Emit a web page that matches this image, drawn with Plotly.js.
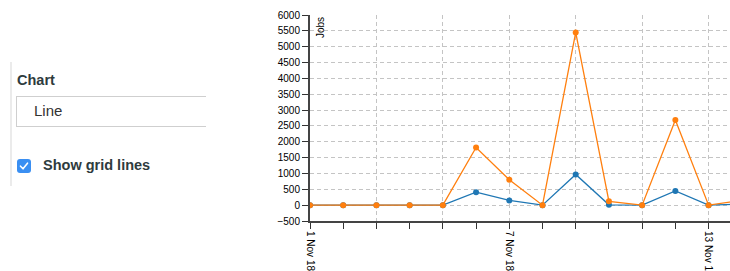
<!DOCTYPE html>
<html>
<head>
<meta charset="utf-8">
<script src="https://cdn.plot.ly/plotly-3.0.1.min.js"></script>
<style>
  html, body { margin:0; padding:0; width:730px; height:271px; overflow:hidden; background:#fff; }
  #panel { position:absolute; left:10px; top:62px; width:200px; height:124px; border-left:2px solid #ebebeb; }
  #lbl { position:absolute; left:5px; top:10px; font-family:"Liberation Sans", Arial, sans-serif; font-weight:bold; font-size:14.5px; color:#2e3b3d; }
  #boxclip { position:absolute; left:4px; top:34px; width:190px; height:32px; overflow:hidden; }
  #box { position:absolute; left:0; top:0; width:260px; height:29px; border:1px solid #cfcfcf; box-sizing:content-box; }
  #boxtxt { position:absolute; left:18px; top:6px; font-family:"Liberation Sans", Arial, sans-serif; font-size:15px; color:#333; }
  #cb { position:absolute; left:5px; top:97px; width:14px; height:14px; border-radius:3px; background:#3a8ff2; }
  #cbtxt { position:absolute; left:31px; top:95px; font-family:"Liberation Sans", Arial, sans-serif; font-weight:bold; font-size:14.5px; color:#2e3b3d; }
  #chart { position:absolute; left:250px; top:0; width:525px; height:271px; }
</style>
</head>
<body>
<div id="panel">
  <div id="lbl">Chart</div>
  <div id="boxclip"><div id="box"></div><div id="boxtxt">Line</div></div>
  <div id="cb"><svg width="14" height="14" viewBox="0 0 14 14"><path d="M3.5 7.2 L6 9.8 L10.5 4.2" stroke="#fff" stroke-width="1.6" fill="none" stroke-linecap="round" stroke-linejoin="round"/></svg></div>
  <div id="cbtxt">Show grid lines</div>
</div>
<div id="chart"></div>
<script>
const dates = ['2018-11-01','2018-11-02','2018-11-03','2018-11-04','2018-11-05','2018-11-06','2018-11-07',
               '2018-11-08','2018-11-09','2018-11-10','2018-11-11','2018-11-12','2018-11-13','2018-11-14'];
const seriesBlue   = [0, 0, 0, 0, 0, 410, 150, 0, 970, 10, 0, 450, 0, 30];
const seriesOrange = [0, 0, 0, 0, 0, 1820, 800, 0, 5450, 120, 0, 2690, 0, 150];
const gridDates = ['2018-11-01','2018-11-03','2018-11-05','2018-11-07','2018-11-09','2018-11-11','2018-11-13'];
const gridLabels = ['1 Nov 18','','','7 Nov 18','','','13 Nov 18'];
const yAxisTitle = 'Jobs';

const gridStyle = { gridcolor:'#c4c4c4', gridwidth:1, griddash:'4px,3px' };

const traces = [
  { x: dates, y: seriesBlue, type:'scatter', mode:'lines+markers',
    line:{color:'#1f77b4', width:1.3}, marker:{color:'#1f77b4', size:6} },
  { x: dates, y: seriesOrange, type:'scatter', mode:'lines+markers',
    line:{color:'#ff7f0e', width:1.3}, marker:{color:'#ff7f0e', size:6} }
];

const layout = {
  width:525, height:271,
  margin:{l:60, r:0, t:15, b:50},
  paper_bgcolor:'rgba(0,0,0,0)', plot_bgcolor:'rgba(0,0,0,0)',
  showlegend:false,
  font:{family:'"Liberation Sans", Arial, sans-serif', size:10, color:'#000'},
  xaxis:Object.assign({
    type:'date', range:['2018-11-01','2018-11-15'],
    tickmode:'array', tickvals:gridDates, ticktext:gridLabels,
    tickangle:90, ticks:'outside', ticklen:6, tickcolor:'#333', tickwidth:1,
    showgrid:true, zeroline:false, showline:true, linecolor:'#444', linewidth:2,
    minor:{tickmode:'array', tickvals:dates, ticks:'outside', ticklen:6, tickcolor:'#333', tickwidth:1, showgrid:false},
    tickfont:{size:10, color:'#000'}
  }, gridStyle),
  yaxis:Object.assign({
    range:[-500, 6000], dtick:500, tick0:0,
    ticks:'outside', ticklen:6, tickcolor:'#333', tickwidth:1,
    showgrid:true, zeroline:false, showline:true, linecolor:'#444', linewidth:2,
    tickfont:{size:10, color:'#000'}
  }, gridStyle),
  annotations:[{
    text: yAxisTitle, xref:'paper', yref:'paper', x:0, y:1, xshift:10, yshift:-13,
    xanchor:'center', yanchor:'middle', textangle:-90, showarrow:false,
    font:{size:10, color:'#000'}
  }]
};

Plotly.newPlot('chart', traces, layout, {displayModeBar:false, staticPlot:true});
</script>
</body>
</html>
